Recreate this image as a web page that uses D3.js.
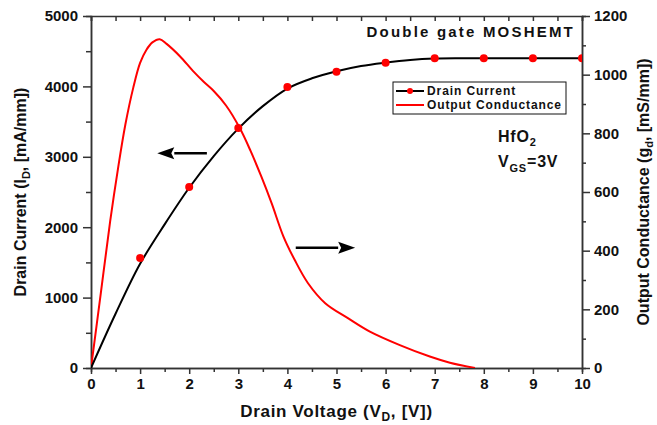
<!DOCTYPE html>
<html>
<head>
<meta charset="utf-8">
<script src="https://cdn.jsdelivr.net/npm/d3@7"></script>
<style>
body { margin: 0; background: #fff; }
text { font-family: "Liberation Sans", Arial, sans-serif; font-weight: bold; fill: #111; }
.axis path, .axis line { stroke: #333; stroke-width: 1.5; }
.axis text { font-size: 15px; }
</style>
</head>
<body>
<div class="chart"></div>
<script>
// drain current curve (black line)
var lineVd = [0, 0.5, 1, 1.5, 2, 2.5, 3, 3.5, 4, 4.5, 5, 5.5, 6, 6.5, 7, 7.5, 8, 9, 10];
var lineId = [0, 770, 1480, 2040, 2560, 3010, 3400, 3720, 3970, 4115, 4215, 4290, 4338, 4375, 4395, 4400, 4400, 4400, 4400];
// red markers on drain current
var dotVd = [1, 2, 3, 4, 5, 6, 7, 8, 9, 10];
var dotId = [1562, 2571, 3409, 3991, 4209, 4337, 4400, 4400, 4400, 4400];
// output conductance (right axis)
var gdVd = [0, 0.2, 0.39, 0.55, 0.7, 0.86, 1.0, 1.13, 1.25, 1.4, 1.54, 1.81, 2.08, 2.3, 2.49, 2.75, 3.03, 3.25, 3.47, 3.68, 3.92, 4.15, 4.42, 4.77, 5.24, 5.68, 6.29, 6.9, 7.31, 7.82];
var gdVal = [0, 255, 500, 680, 830, 955, 1040, 1085, 1110, 1121, 1105, 1063, 1012, 975, 946, 895, 818, 740, 652, 561, 448, 368, 289, 221, 169, 124, 78, 39, 18, 0];

var xTicks = [0, 1, 2, 3, 4, 5, 6, 7, 8, 9, 10];
var yLeftTicks = [0, 1000, 2000, 3000, 4000, 5000];
var yRightTicks = [0, 200, 400, 600, 800, 1000, 1200];

var svgWidth = 657, svgHeight = 425;
var margin = { top: 16, right: 75, bottom: 57, left: 91 };
var width = svgWidth - margin.left - margin.right;
var height = svgHeight - margin.top - margin.bottom;

var svg = d3.select(".chart").append("svg")
    .attr("width", svgWidth)
    .attr("height", svgHeight);
var chart = svg.append("g")
    .attr("transform", "translate(" + margin.left + "," + margin.top + ")");

var x = d3.scaleLinear().domain([0, 10]).range([0, width]);
var yL = d3.scaleLinear().domain([0, 5000]).range([height, 0]);
var yR = d3.scaleLinear().domain([0, 1200]).range([height, 0]);

svg.append("defs").append("clipPath").attr("id", "clip")
    .append("rect").attr("width", width).attr("height", height);

var fmt = d3.format("d");

// minor ticks first
var minorX = d3.range(0.5, 10, 1);
chart.append("g").attr("class", "axis").attr("transform", "translate(0," + height + ")")
    .call(d3.axisBottom(x).tickValues(minorX).tickSize(4).tickFormat(""));
chart.append("g").attr("class", "axis")
    .call(d3.axisLeft(yL).tickValues(d3.range(500, 5000, 1000)).tickSize(5).tickFormat(""));
chart.append("g").attr("class", "axis").attr("transform", "translate(" + width + ",0)")
    .call(d3.axisRight(yR).tickValues(d3.range(100, 1200, 200)).tickSize(4).tickFormat(""));
chart.append("g").attr("class", "axis")
    .call(d3.axisTop(x).tickValues(d3.range(0, 10.01, 0.5)).tickSize(-5).tickFormat(""));

chart.append("g").attr("class", "axis").attr("transform", "translate(0," + height + ")")
    .call(d3.axisBottom(x).tickValues(xTicks).tickSize(6).tickPadding(4).tickSizeOuter(0).tickFormat(fmt));
chart.append("g").attr("class", "axis")
    .call(d3.axisLeft(yL).tickValues(yLeftTicks).tickSize(8).tickPadding(5).tickSizeOuter(0).tickFormat(fmt));
chart.append("g").attr("class", "axis").attr("transform", "translate(" + width + ",0)")
    .call(d3.axisRight(yR).tickValues(yRightTicks).tickSize(8).tickPadding(4).tickSizeOuter(0).tickFormat(fmt));

var plot = chart.append("g").attr("clip-path", "url(#clip)");

var gdLine = d3.line()
    .x(function(d, i) { return x(gdVd[i]); })
    .y(function(d) { return yR(d); })
    .curve(d3.curveCatmullRom.alpha(0.5));
plot.append("path").datum(gdVal)
    .attr("d", gdLine)
    .attr("fill", "none").attr("stroke", "#ff0000").attr("stroke-width", 2);

var idLine = d3.line()
    .x(function(d, i) { return x(lineVd[i]); })
    .y(function(d) { return yL(d); })
    .curve(d3.curveCatmullRom.alpha(0.5));
plot.append("path").datum(lineId)
    .attr("d", idLine)
    .attr("fill", "none").attr("stroke", "#000").attr("stroke-width", 2);

plot.selectAll("circle").data(dotId).enter().append("circle")
    .attr("cx", function(d, i) { return x(dotVd[i]); })
    .attr("cy", function(d) { return yL(d); })
    .attr("r", 4)
    .attr("fill", "#ff0000");

// arrows
function arrow(x1, x2, yy) {
    var dir = x2 > x1 ? 1 : -1;
    var base = x2 - dir * 17;
    chart.append("line").attr("x1", x1).attr("x2", base).attr("y1", yy).attr("y2", yy)
        .attr("stroke", "#000").attr("stroke-width", 2.5);
    chart.append("path")
        .attr("d", "M" + x2 + "," + yy + "L" + base + "," + (yy - 6) + "L" + (base + dir * 3) + "," + yy + "L" + base + "," + (yy + 6) + "Z")
        .attr("fill", "#000");
}
arrow(x(2.36), x(1.35), yL(3050));
arrow(x(4.17), x(5.38), yR(410));

// labels
chart.append("text")
    .attr("x", width - 7).attr("y", 21)
    .attr("text-anchor", "end")
    .style("font-size", "15px").style("letter-spacing", "2.2px")
    .text("Double gate MOSHEMT");

var hf = chart.append("text").attr("x", 407).attr("y", 126).style("font-size", "16px").style("letter-spacing", "0.8px");
hf.append("tspan").text("HfO");
hf.append("tspan").attr("dy", 4).style("font-size", "11px").text("2");

var vg = chart.append("text").attr("x", 407).attr("y", 151).style("font-size", "16px").style("letter-spacing", "0.8px");
vg.append("tspan").text("V");
vg.append("tspan").attr("dy", 5).style("font-size", "11px").text("GS");
vg.append("tspan").attr("dy", -5).text("=3V");

// legend
var leg = chart.append("g").attr("transform", "translate(302,66)");
leg.append("rect").attr("width", 173).attr("height", 32)
    .attr("fill", "#fff").attr("stroke", "#111").attr("stroke-width", 1);
leg.append("line").attr("x1", 3).attr("x2", 31).attr("y1", 9).attr("y2", 9)
    .attr("stroke", "#000").attr("stroke-width", 2);
leg.append("circle").attr("cx", 17).attr("cy", 9).attr("r", 3).attr("fill", "#ff0000");
leg.append("line").attr("x1", 3).attr("x2", 31).attr("y1", 23).attr("y2", 23)
    .attr("stroke", "#ff0000").attr("stroke-width", 2);
leg.append("text").attr("x", 34).attr("y", 13).style("font-size", "12px").style("letter-spacing", "0.9px").text("Drain Current");
leg.append("text").attr("x", 34).attr("y", 27).style("font-size", "12px").style("letter-spacing", "0.9px").text("Output Conductance");

// axis titles
var xl = chart.append("text")
    .attr("x", width / 2).attr("y", height + 49)
    .attr("text-anchor", "middle")
    .style("font-size", "17px").style("letter-spacing", "0.7px");
xl.append("tspan").text("Drain Voltage (V");
xl.append("tspan").attr("dy", 4).style("font-size", "12px").text("D");
xl.append("tspan").attr("dy", -4).text(", [V])");

var ylab = chart.append("text")
    .attr("transform", "translate(-65," + (height / 2) + ") rotate(-90)")
    .attr("text-anchor", "middle")
    .style("font-size", "16px");
ylab.append("tspan").text("Drain Current (I");
ylab.append("tspan").attr("dy", 4).style("font-size", "11px").text("D");
ylab.append("tspan").attr("dy", -4).text(", [mA/mm])");

var rlab = chart.append("text")
    .attr("transform", "translate(" + (width + 67) + "," + (height / 2) + ") rotate(-90)")
    .attr("text-anchor", "middle")
    .style("font-size", "16px");
rlab.append("tspan").text("Output Conductance (g");
rlab.append("tspan").attr("dy", 4).style("font-size", "11px").text("d");
rlab.append("tspan").attr("dy", -4).text(", [mS/mm])");
</script>
</body>
</html>
